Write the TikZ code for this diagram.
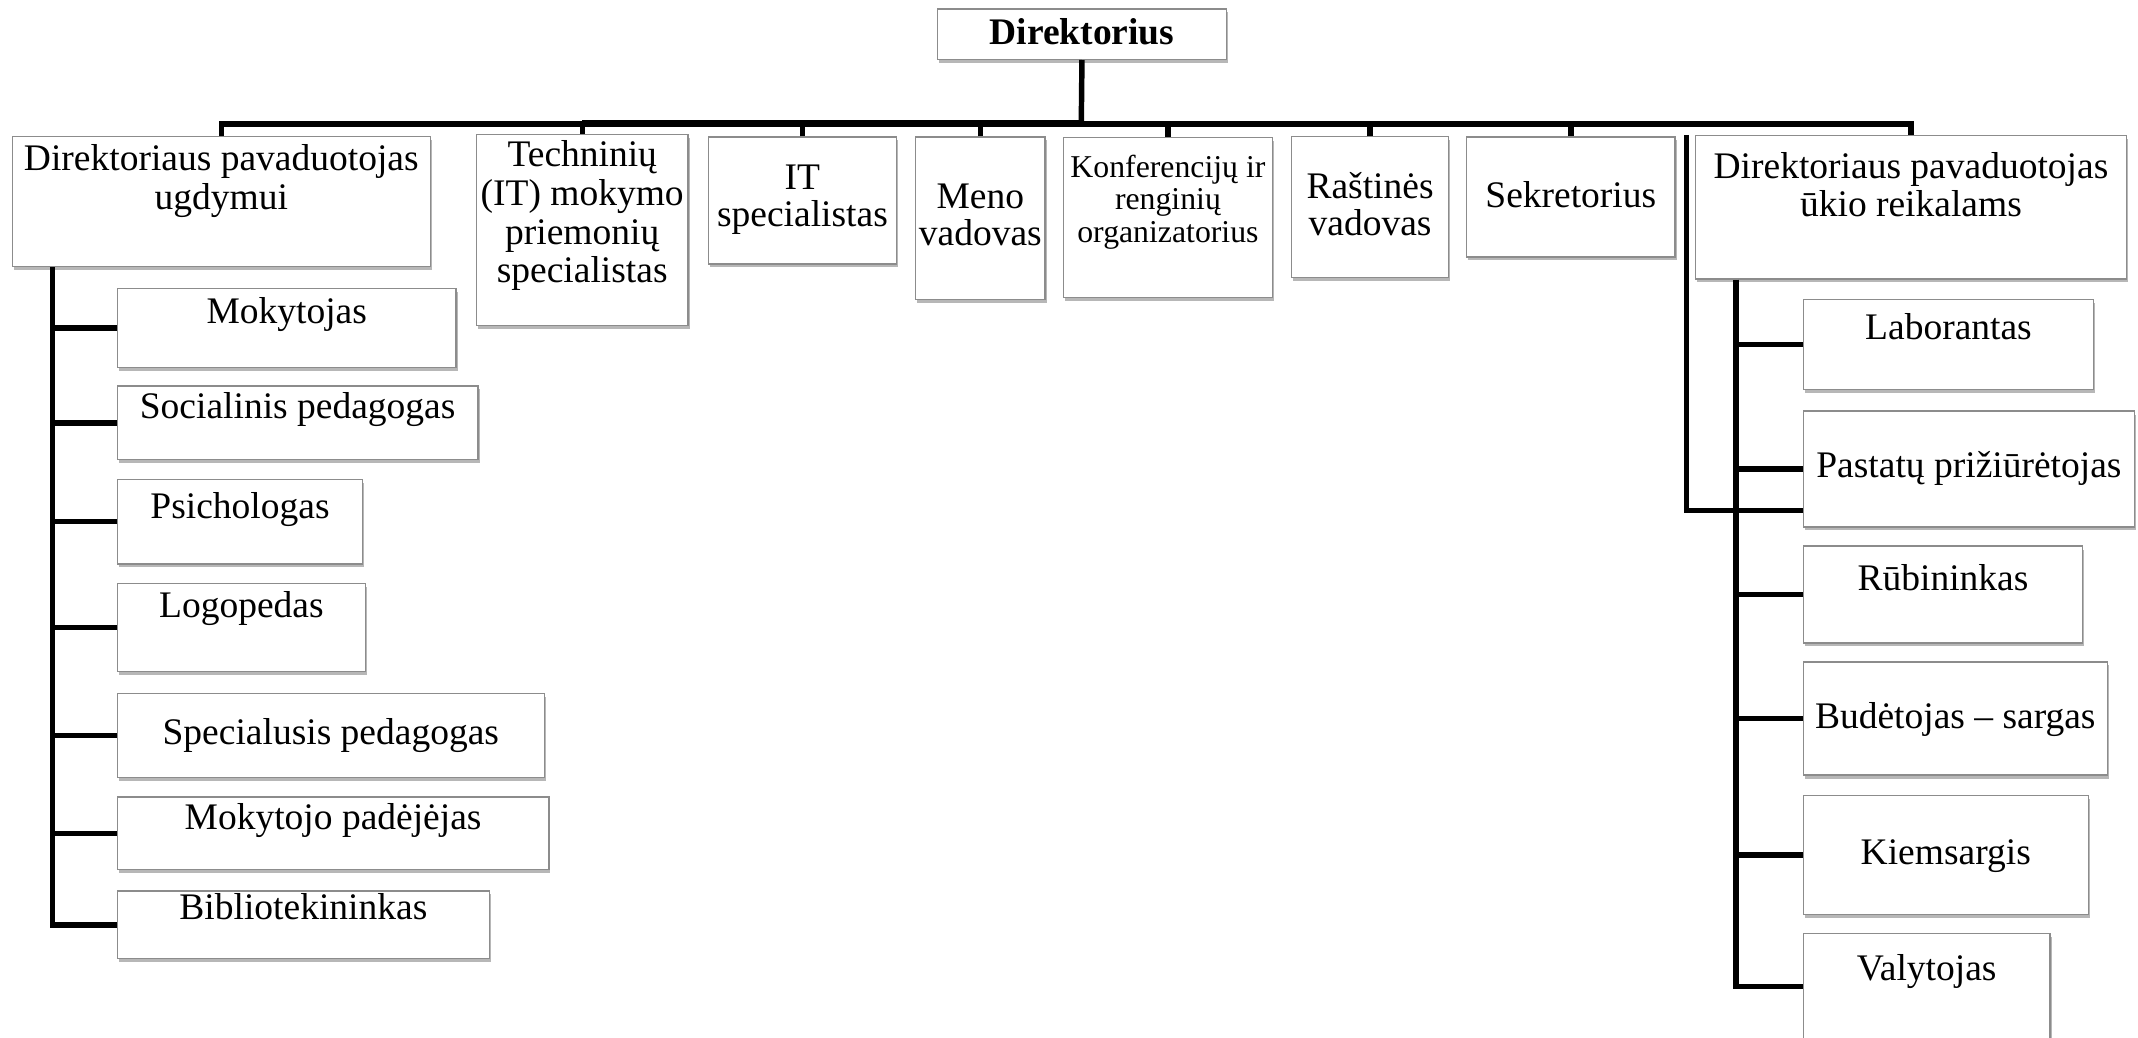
\documentclass[tikz,border=0pt]{standalone}
\usepackage{fontspec}
\setmainfont{Liberation Serif}
\usetikzlibrary{shadows,calc}
\definecolor{boxgray}{RGB}{140,140,140}
\begin{document}
\begin{tikzpicture}[x=1pt,y=-1pt,
  box/.style={draw=boxgray, line width=1pt, fill=white, inner sep=0pt, anchor=north west,
    drop shadow={shadow xshift=1.2pt, shadow yshift=-2.5pt, fill=black!70, opacity=0.4}},
  txt/.style={anchor=base, align=center, inner sep=0pt, font=\fontsize{27.5}{28.5}\selectfont},
  conn/.style={line width=4pt, line join=miter, draw=black}]
\useasboundingbox (0,0) rectangle (1568,761);

% top level
\node[box, minimum width=212pt, minimum height=37pt] (dir) at (687,6) {};
\node[txt, font=\fontsize{27.5}{28.5}\selectfont\bfseries] (dir-t) at ([yshift=-26.3pt]dir.north) {Direktorius};

% second row
\node[box, minimum width=306.4pt, minimum height=95.5pt] (l0) at (8.6,99.5) {};
\node[box, minimum width=155pt, minimum height=140pt] (tec) at (349,98) {};
\node[box, minimum width=138pt, minimum height=93pt] (it) at (519,100) {};
\node[box, minimum width=95pt, minimum height=119pt] (men) at (671,100) {};
\node[box, minimum width=153.3pt, minimum height=117.4pt] (kon) at (779.4,100.2) {};
\node[box, minimum width=115.4pt, minimum height=103pt] (ras) at (946.6,99.8) {};
\node[box, minimum width=153pt, minimum height=88pt] (sek) at (1075,100) {};
\node[box, minimum width=316pt, minimum height=105pt] (r0) at (1243,99) {};

% (multi-line texts: anchor is the baseline of the last line)
\node[txt, font=\fontsize{27.5}{29.3}\selectfont] (l0-t) at ([yshift=-54.5pt]l0.north) {Direktoriaus pavaduotojas\\ugdymui};
\node[txt] (tec-t) at ([yshift=-109.5pt]tec.north) {Techninių\\(IT) mokymo\\priemonių\\specialistas};
\node[txt, font=\fontsize{27.5}{27}\selectfont] (it-t) at ([yshift=-66pt]it.north) {IT\\specialistas};
\node[txt, font=\fontsize{27.5}{27}\selectfont] (men-t) at ([yshift=-80pt]men.north) {Meno\\vadovas};
\node[txt, font=\fontsize{23.3}{24}\selectfont] (kon-t) at ([yshift=-77.8pt]kon.north) {Konferencijų ir\\renginių\\organizatorius};
\node[txt, font=\fontsize{27.5}{27}\selectfont] (ras-t) at ([yshift=-72.7pt]ras.north) {Raštinės\\vadovas};
\node[txt] (sek-t) at ([yshift=-52pt]sek.north) {Sekretorius};
\node[txt, font=\fontsize{27.5}{28}\selectfont] (r0-t) at ([yshift=-60pt]r0.north) {Direktoriaus pavaduotojas\\ūkio reikalams};

% left subordinates
\node[box, minimum width=248.4pt, minimum height=58pt] (mok) at (85.6,211) {};
\node[box, minimum width=264.4pt, minimum height=54.2pt] (soc) at (85.6,282.5) {};
\node[box, minimum width=179.9pt, minimum height=62pt] (psi) at (85.6,351) {};
\node[box, minimum width=181.9pt, minimum height=64.6pt] (log) at (85.6,427.4) {};
\node[box, minimum width=313pt, minimum height=61.5pt] (spe) at (85.6,508) {};
\node[box, minimum width=316.4pt, minimum height=53.4pt] (mpa) at (85.6,584) {};
\node[box, minimum width=272.8pt, minimum height=49.6pt] (bib) at (85.6,653) {};

\node[txt] (mok-t) at ([yshift=-26pt]mok.north) {Mokytojas};
\node[txt] (soc-t) at ([yshift=-24.2pt]soc.north) {Socialinis pedagogas};
\node[txt] (psi-t) at ([yshift=-29pt]psi.north) {Psichologas};
\node[txt] (log-t) at ([yshift=-25.2pt]log.north) {Logopedas};
\node[txt] (spe-t) at ([yshift=-37.7pt]spe.north) {Specialusis pedagogas};
\node[txt] (mpa-t) at ([yshift=-24pt]mpa.north) {Mokytojo padėjėjas};
\node[txt] (bib-t) at ([yshift=-21pt]bib.north) {Bibliotekininkas};

% right subordinates
\node[box, minimum width=213pt, minimum height=66pt] (lab) at (1322,219) {};
\node[box, minimum width=243pt, minimum height=85pt] (pas) at (1322,301) {};
\node[box, minimum width=205pt, minimum height=71pt] (rub) at (1322,400) {};
\node[box, minimum width=223pt, minimum height=83pt] (bud) at (1322,485) {};
\node[box, minimum width=209pt, minimum height=87pt] (kie) at (1322,583) {};
\node[box, minimum width=181pt, minimum height=78pt] (val) at (1322,684) {};

\node[txt] (lab-t) at ([yshift=-30pt]lab.north) {Laborantas};
\node[txt] (pas-t) at ([yshift=-49pt]pas.north) {Pastatų prižiūrėtojas};
\node[txt] (rub-t) at ([yshift=-33pt]rub.north) {Rūbininkas};
\node[txt] (bud-t) at ([yshift=-49pt]bud.north) {Budėtojas – sargas};
\node[txt] (kie-t) at ([yshift=-51pt]kie.north) {Kiemsargis};
\node[txt] (val-t) at ([yshift=-35pt]val.north) {Valytojas};

% connectors: top bus
\coordinate (bus) at (793,91);
\coordinate (tb) at (tec.north |- bus);
\draw[conn] (dir.south) -- (bus);
\draw[conn] (l0.north) -- (l0.north |- bus) -- (r0.north |- bus) -- (r0.north);
\draw[line width=5.2pt] ([yshift=0.6pt]tb) -- ([yshift=0.6pt]bus);
\foreach \n in {tec,it,men,kon,ras,sek}
  \draw[conn] (\n.north) -- (\n.north |- bus);

% left column
\coordinate (lv) at ([xshift=30pt]l0.south west);
\draw[conn] (lv) |- (bib.west);
\foreach \n in {mok,soc,psi,log,spe,mpa}
  \draw[conn] (lv |- \n.west) -- (\n.west);

% right column
\coordinate (rv) at ([xshift=30pt]r0.south west);
\draw[conn] (rv) |- (val.west);
\foreach \n in {lab,pas,rub,bud,kie}
  \draw[conn] (rv |- \n.west) -- (\n.west);

% bracket line at the left of the right deputy
\draw[conn] ([xshift=-6pt]r0.north west) |- ([yshift=12.7pt]pas.south west);
\end{tikzpicture}
\end{document}
